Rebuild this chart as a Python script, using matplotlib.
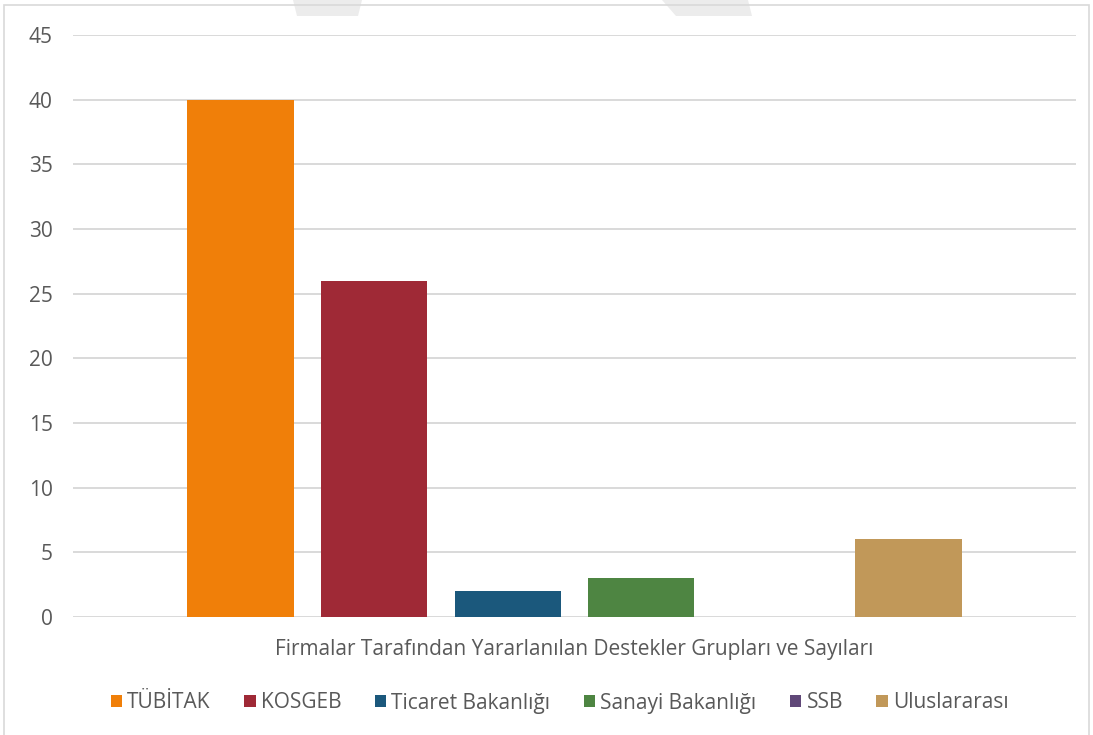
import numpy as np
import matplotlib.pyplot as plt
from matplotlib.patches import Polygon, Rectangle

# Data
category = 'Firmalar Tarafından Yararlanılan Destekler Grupları ve Sayıları'
series = ['TÜBİTAK', 'KOSGEB', 'Ticaret Bakanlığı', 'Sanayi Bakanlığı', 'SSB', 'Uluslararası']
values = [40, 26, 2, 3, 0, 6]
colors = ['#F07F09', '#9F2936', '#1B587C', '#4E8542', '#604878', '#C19859']
yticks = [0, 5, 10, 15, 20, 25, 30, 35, 40, 45]

plt.rcParams['font.family'] = ['Open Sans', 'DejaVu Sans']
text_color = '#595959'
fs = 15

fig = plt.figure(figsize=(10.93, 7.35), dpi=100)
W, H = 1093, 735

# faint watermark shapes at the top
for pts in [[(293, 0), (362, 0), (358, 16), (297, 16)],
            [(662, 0), (748, 0), (752, 16), (676, 16)]]:
    fig.patches.append(Polygon([(x / W, 1 - y / H) for x, y in pts], closed=True,
                               transform=fig.transFigure, facecolor='#ececec',
                               edgecolor='none', zorder=0))

# chart border
fig.patches.append(Rectangle((4 / W, -0.01), (1089 - 4) / W, 1 - 5 / H + 0.01,
                             transform=fig.transFigure, fill=False,
                             edgecolor='#d9d9d9', linewidth=1.2, zorder=1))

ax = fig.add_axes([73 / W, 1 - 617 / H, (1076 - 73) / W, (617 - 35) / H])
ax.set_facecolor('none')

step = 0.1332
width = 0.1057
for i, (name, v, c) in enumerate(zip(series, values, colors)):
    ax.bar((i - 2.5) * step, v, width=width, color=c, label=name, zorder=3)

ax.set_xlim(-0.5, 0.5)
ax.set_ylim(0, 45)
ax.set_yticks(yticks)
ax.set_xticks([0])
ax.set_xticklabels([category])
ax.tick_params(axis='both', length=0, labelsize=fs, colors=text_color)
ax.tick_params(axis='x', pad=16)
ax.tick_params(axis='y', pad=14.5)
ax.yaxis.grid(True, color='#d9d9d9', linewidth=1.4, zorder=0)
ax.set_axisbelow(True)
for s in ax.spines.values():
    s.set_visible(False)

leg = fig.legend(loc='center', bbox_to_anchor=(0.512, 1 - 703 / H), ncol=6,
                 frameon=False, fontsize=fs, handlelength=0.55, handleheight=0.55,
                 handletextpad=0.25, columnspacing=1.6)
for t in leg.get_texts():
    t.set_color(text_color)

fig.savefig('out.png', dpi=100)
